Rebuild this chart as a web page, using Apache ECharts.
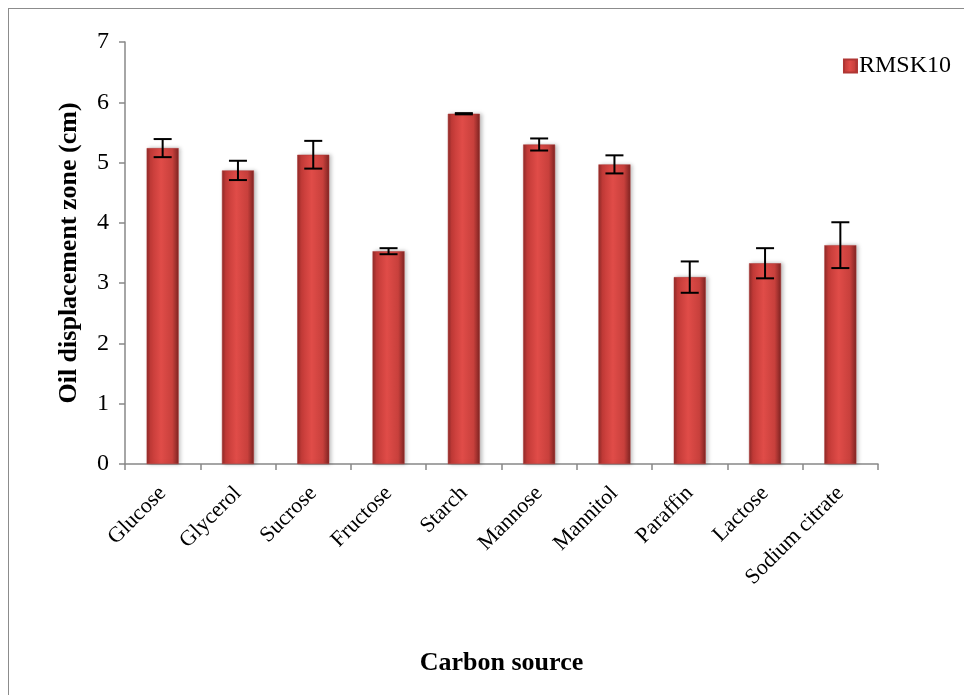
<!DOCTYPE html>
<html>
<head>
<meta charset="utf-8">
<script src="https://cdn.jsdelivr.net/npm/echarts@6/dist/echarts.min.js"></script>
<style>
  html, body { margin: 0; padding: 0; background: #fff; }
  #frame { position: absolute; left: 8px; top: 8px; width: 970px; height: 700px;
           border-left: 1px solid #8c8c8c; border-top: 1px solid #8c8c8c; }
  #main { position: absolute; left: 0; top: 0; width: 964px; height: 695px; }
</style>
</head>
<body>
<div id="frame"></div>
<div id="main"></div>
<script>
// 碳源
var categories = ['Glucose', 'Glycerol', 'Sucrose', 'Fructose', 'Starch',
                  'Mannose', 'Mannitol', 'Paraffin', 'Lactose', 'Sodium citrate'];
// 排油圈直径 (cm)
var values = [5.24, 4.87, 5.13, 3.53, 5.81, 5.30, 4.97, 3.10, 3.33, 3.63];
// 标准差
var errors = [0.15, 0.16, 0.23, 0.05, 0.01, 0.10, 0.15, 0.26, 0.25, 0.38];
var yTicks = [0, 1, 2, 3, 4, 5, 6, 7];

var serif = '"Liberation Serif", "DejaVu Serif", serif';

var barColor = new echarts.graphic.LinearGradient(0, 0, 1, 0, [
    {offset: 0, color: '#8e2a28'},
    {offset: 0.12, color: '#c23a37'},
    {offset: 0.45, color: '#e04c48'},
    {offset: 0.8, color: '#c8403c'},
    {offset: 1, color: '#7e2422'}
]);

var errData = values.map(function (v, i) { return [i, v - errors[i], v + errors[i]]; });

var myChart = echarts.init(document.getElementById('main'));

myChart.setOption({
    animation: false,
    backgroundColor: 'transparent',
    legend: {
        right: 8,
        top: 49,
        icon: 'rect',
        itemWidth: 13,
        itemHeight: 13,
        itemGap: 4,
        data: ['RMSK10'],
        textStyle: {fontFamily: serif, fontSize: 24, color: '#000', padding: [0, 0, 0, -3]}
    },
    grid: {left: 125, right: 86, top: 42, bottom: 231},
    xAxis: {
        type: 'category',
        data: categories,
        name: 'Carbon source',
        nameLocation: 'middle',
        nameGap: 186,
        nameTextStyle: {fontFamily: serif, fontSize: 26, fontWeight: 'bold', color: '#000'},
        axisLine: {lineStyle: {color: '#888', width: 1.5}},
        axisTick: {show: true, length: 6, lineStyle: {color: '#888', width: 1.5}},
        axisLabel: {
            rotate: 45, interval: 0, margin: 26,
            fontFamily: serif, fontSize: 22, color: '#000'
        }
    },
    yAxis: {
        type: 'value',
        min: yTicks[0],
        max: yTicks[yTicks.length - 1],
        interval: 1,
        name: 'Oil displacement zone (cm)',
        nameLocation: 'middle',
        nameGap: 43,
        nameTextStyle: {fontFamily: serif, fontSize: 26, fontWeight: 'bold', color: '#000'},
        axisLine: {show: true, lineStyle: {color: '#888', width: 1.5}},
        axisTick: {show: true, length: 6, lineStyle: {color: '#888', width: 1.5}},
        splitLine: {show: false},
        axisLabel: {margin: 16, fontFamily: serif, fontSize: 24, color: '#000'}
    },
    series: [{
        name: 'RMSK10',
        type: 'bar',
        data: values,
        barWidth: 32,
        itemStyle: {
            color: barColor,
            borderColor: '#b03634',
            borderWidth: 0.5,
            shadowColor: 'rgba(0,0,0,0.25)',
            shadowBlur: 4,
            shadowOffsetX: 2
        }
    }, {
        type: 'custom',
        name: 'error',
        data: errData,
        z: 10,
        renderItem: function (params, api) {
            var x = api.value(0);
            var lo = api.coord([x, api.value(1)]);
            var hi = api.coord([x, api.value(2)]);
            var hw = 9;
            var st = {stroke: '#000', lineWidth: 2};
            return {
                type: 'group',
                children: [
                    {type: 'line', shape: {x1: hi[0], y1: hi[1], x2: lo[0], y2: lo[1]}, style: st},
                    {type: 'line', shape: {x1: hi[0] - hw, y1: hi[1], x2: hi[0] + hw, y2: hi[1]}, style: st},
                    {type: 'line', shape: {x1: lo[0] - hw, y1: lo[1], x2: lo[0] + hw, y2: lo[1]}, style: st}
                ]
            };
        }
    }]
});
</script>
</body>
</html>
